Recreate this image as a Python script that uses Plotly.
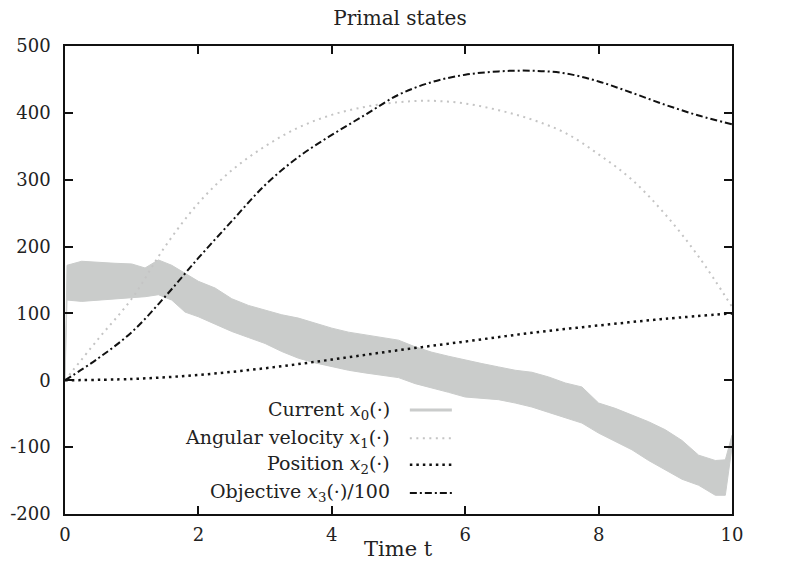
import plotly.graph_objects as go

# ---------------- data ----------------
t_half = [0, 0.5, 1, 1.5, 2, 2.5, 3, 3.5, 4, 4.5, 5, 5.5, 6, 6.5, 7, 7.5, 8, 8.5, 9, 9.5, 10]
x1_velocity = [0, 62, 122, 200, 265, 314, 350, 378, 397, 409, 416, 418, 414, 404, 390, 370, 338, 300, 248, 185, 110]
x3_objective = [0, 33, 72, 125, 183, 238, 292, 334, 367, 397, 427, 446, 457, 462, 463, 459, 447, 430, 412, 396, 383]

t_unit = [0, 1, 2, 3, 4, 5, 6, 7, 8, 9, 10]
x2_position = [0, 2, 8, 18, 31, 45, 58, 71, 82, 92, 100]

t_env = [0, 0.03, 0.25, 0.5, 0.75, 1.0, 1.2, 1.4, 1.6, 1.8, 2.0, 2.25, 2.5, 2.75, 3.0, 3.25, 3.5,
         3.75, 4.0, 4.25, 4.5, 4.75, 5.0, 5.25, 5.5, 5.75, 6.0, 6.25, 6.5, 6.75, 7.0, 7.25, 7.5,
         7.75, 8.0, 8.25, 8.5, 8.75, 9.0, 9.25, 9.5, 9.75, 9.9, 10.0]
x0_upper = [0, 172, 178, 176, 175, 174, 168, 180, 172, 160, 148, 138, 122, 112, 105, 98, 93,
            85, 78, 72, 68, 65, 60, 50, 42, 36, 30, 25, 20, 15, 12, 5, -4,
            -10, -34, -42, -52, -62, -74, -90, -112, -120, -119, -82]
x0_lower = [0, 120, 118, 120, 122, 124, 125, 128, 120, 102, 95, 84, 73, 64, 55, 43, 33,
            26, 20, 15, 11, 8, 4, -5, -11, -18, -25, -27, -29, -34, -40, -48, -56,
            -64, -79, -92, -104, -120, -134, -148, -157, -172, -172, -100]

legend_labels = ["Current <i>x</i><sub>0</sub>(·)",
                 "Angular velocity <i>x</i><sub>1</sub>(·)",
                 "Position <i>x</i><sub>2</sub>(·)",
                 "Objective <i>x</i><sub>3</sub>(·)/100"]

x_ticks = [0, 2, 4, 6, 8, 10]
x_ticktext = ["0", "2", "4", "6", "8", "10"]
y_ticks = [-200, -100, 0, 100, 200, 300, 400, 500]
y_ticktext = ["-200", "-100", "0", "100", "200", "300", "400", "500"]

# ---------------- styles ----------------
FONT = "DejaVu Serif"
TXT = "#222222"
GRAY = "#cacccb"
LGRAY = "#c4c4c4"
BLACK = "#111111"
styles = [
    dict(color=GRAY, width=3, dash="solid"),
    dict(color=LGRAY, width=2, dash="2px,4.5px"),
    dict(color=BLACK, width=2.5, dash="2.5px,4px"),
    dict(color=BLACK, width=2, dash="7px,3px,2px,3px"),
]

fig = go.Figure()
fig.add_trace(go.Scatter(x=t_env, y=x0_lower, mode="lines",
                         line=dict(color=GRAY, width=1), showlegend=False, hoverinfo="skip"))
fig.add_trace(go.Scatter(x=t_env, y=x0_upper, mode="lines", fill="tonexty", fillcolor=GRAY,
                         line=dict(color=GRAY, width=1), showlegend=False, name="Current"))
fig.add_trace(go.Scatter(x=t_half, y=x1_velocity, mode="lines", line_shape="spline",
                         line=styles[1], showlegend=False, name="Angular velocity"))
fig.add_trace(go.Scatter(x=t_unit, y=x2_position, mode="lines", line_shape="spline",
                         line=styles[2], showlegend=False, name="Position"))
fig.add_trace(go.Scatter(x=t_half, y=x3_objective, mode="lines", line_shape="spline",
                         line=styles[3], showlegend=False, name="Objective"))

# custom gnuplot-style legend (text right-aligned, sample on the right)
row_y = [0.222, 0.162, 0.105, 0.045]
for lab, yy, st in zip(legend_labels, row_y, styles):
    fig.add_annotation(x=0.49, y=yy, xref="paper", yref="paper", text=lab, showarrow=False,
                       xanchor="right", yanchor="middle", font=dict(family=FONT, size=19, color=TXT))
    fig.add_shape(type="line", xref="paper", yref="paper", x0=0.517, x1=0.580, y0=yy, y1=yy,
                  line=dict(color=st["color"], width=st["width"], dash=st["dash"]))

# x-axis title
fig.add_annotation(x=0.5, y=-0.075, xref="paper", yref="paper", text="Time t", showarrow=False,
                   xanchor="center", yanchor="middle", font=dict(family=FONT, size=21, color=TXT))

axis_common = dict(showgrid=False, zeroline=False, showline=True, linecolor="#111", linewidth=1.5,
                   mirror="ticks", ticks="inside", ticklen=8, tickwidth=1.5, tickcolor="#111",
                   automargin=False, tickfont=dict(family=FONT, size=18, color=TXT))
fig.update_xaxes(range=[0, 10], tickvals=x_ticks, ticktext=x_ticktext, ticklabelstandoff=4, **axis_common)
fig.update_yaxes(range=[-200, 500], tickvals=y_ticks, ticktext=y_ticktext, ticklabelstandoff=9, **axis_common)

fig.update_layout(
    width=800, height=577,
    margin=dict(l=65, r=68, t=46, b=63, autoexpand=False),
    paper_bgcolor="white", plot_bgcolor="white",
    title=dict(text="Primal states", x=0.5, xanchor="center", y=1 - 18 / 577, yanchor="middle",
               font=dict(family=FONT, size=20, color=TXT)),
    showlegend=False,
)

fig.write_html("out.html")
